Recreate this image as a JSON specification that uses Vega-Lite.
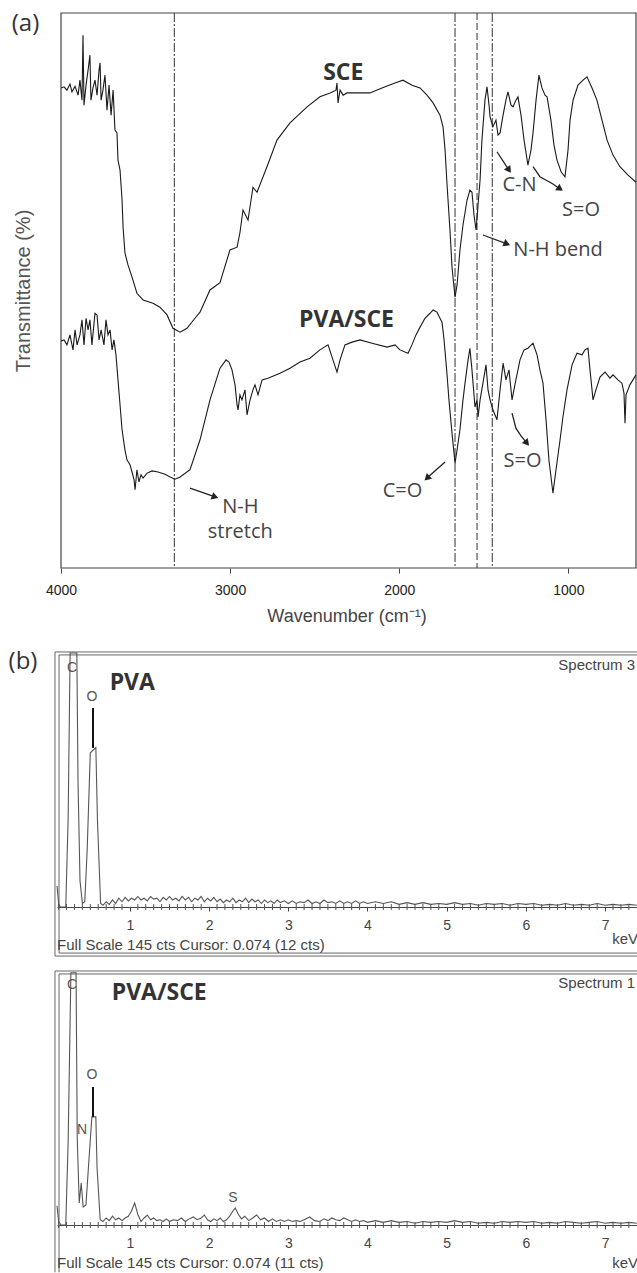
{
  "$schema": "https://vega.github.io/schema/vega-lite/v6.json",
  "background": "white",
  "padding": {"left": 8, "top": 11, "right": 0, "bottom": 0},
  "bounds": "flush",
  "spacing": 65,
  "config": {"view": {"stroke": null}, "axis": {"grid": false}, "font": "Liberation Sans"},
  "datasets": {
    "frameA": [{"x1": 4000, "x2": 600, "y1": 0, "y2": 100}],
    "vlinesA": [{"wn": 3330, "k": "dd"}, {"wn": 1670, "k": "dd"}, {"wn": 1540, "k": "d"}, {"wn": 1450, "k": "dd"}],
    "ftir": [
      {"s":"SCE","wn":4000,"t":86.5},{"s":"SCE","wn":3982,"t":86.7},{"s":"SCE","wn":3965,"t":86.1},{"s":"SCE","wn":3947,"t":87.2},{"s":"SCE","wn":3935,"t":85.8},{"s":"SCE","wn":3917,"t":86.8},{"s":"SCE","wn":3899,"t":85.2},{"s":"SCE","wn":3888,"t":87.9},{"s":"SCE","wn":3876,"t":84.3},{"s":"SCE","wn":3870,"t":96.0},{"s":"SCE","wn":3864,"t":83.4},{"s":"SCE","wn":3852,"t":87.0},{"s":"SCE","wn":3840,"t":89.7},{"s":"SCE","wn":3829,"t":92.4},{"s":"SCE","wn":3823,"t":84.3},{"s":"SCE","wn":3811,"t":86.5},{"s":"SCE","wn":3799,"t":87.9},{"s":"SCE","wn":3787,"t":85.2},{"s":"SCE","wn":3775,"t":89.7},{"s":"SCE","wn":3769,"t":91.0},{"s":"SCE","wn":3763,"t":84.3},{"s":"SCE","wn":3752,"t":86.1},{"s":"SCE","wn":3740,"t":88.8},{"s":"SCE","wn":3728,"t":82.5},{"s":"SCE","wn":3716,"t":87.0},{"s":"SCE","wn":3704,"t":81.6},{"s":"SCE","wn":3692,"t":86.1},{"s":"SCE","wn":3681,"t":78.9},{"s":"SCE","wn":3669,"t":78.4},{"s":"SCE","wn":3663,"t":73.5},{"s":"SCE","wn":3651,"t":71.7},{"s":"SCE","wn":3639,"t":66.3},{"s":"SCE","wn":3633,"t":61.4},{"s":"SCE","wn":3622,"t":56.8},{"s":"SCE","wn":3604,"t":54.6},{"s":"SCE","wn":3580,"t":52.4},{"s":"SCE","wn":3551,"t":49.5},{"s":"SCE","wn":3515,"t":48.3},{"s":"SCE","wn":3456,"t":47.7},{"s":"SCE","wn":3415,"t":47.0},{"s":"SCE","wn":3373,"t":45.6},{"s":"SCE","wn":3338,"t":43.2},{"s":"SCE","wn":3296,"t":42.5},{"s":"SCE","wn":3255,"t":43.2},{"s":"SCE","wn":3208,"t":45.0},{"s":"SCE","wn":3178,"t":46.1},{"s":"SCE","wn":3119,"t":50.1},{"s":"SCE","wn":3060,"t":51.4},{"s":"SCE","wn":3001,"t":57.3},{"s":"SCE","wn":2959,"t":57.8},{"s":"SCE","wn":2942,"t":60.4},{"s":"SCE","wn":2924,"t":64.5},{"s":"SCE","wn":2894,"t":62.7},{"s":"SCE","wn":2865,"t":68.6},{"s":"SCE","wn":2841,"t":67.7},{"s":"SCE","wn":2782,"t":72.3},{"s":"SCE","wn":2723,"t":77.1},{"s":"SCE","wn":2646,"t":80.2},{"s":"SCE","wn":2545,"t":83.1},{"s":"SCE","wn":2469,"t":84.9},{"s":"SCE","wn":2409,"t":85.6},{"s":"SCE","wn":2374,"t":86.1},{"s":"SCE","wn":2368,"t":87.4},{"s":"SCE","wn":2362,"t":83.8},{"s":"SCE","wn":2350,"t":86.1},{"s":"SCE","wn":2332,"t":85.2},{"s":"SCE","wn":2309,"t":85.6},{"s":"SCE","wn":2232,"t":85.6},{"s":"SCE","wn":2173,"t":85.6},{"s":"SCE","wn":2084,"t":86.7},{"s":"SCE","wn":2025,"t":87.4},{"s":"SCE","wn":1978,"t":87.9},{"s":"SCE","wn":1924,"t":87.0},{"s":"SCE","wn":1877,"t":86.5},{"s":"SCE","wn":1836,"t":85.2},{"s":"SCE","wn":1800,"t":83.8},{"s":"SCE","wn":1759,"t":81.6},{"s":"SCE","wn":1741,"t":79.5},{"s":"SCE","wn":1729,"t":75.3},{"s":"SCE","wn":1718,"t":69.4},{"s":"SCE","wn":1700,"t":60.9},{"s":"SCE","wn":1688,"t":54.2},{"s":"SCE","wn":1670,"t":48.8},{"s":"SCE","wn":1658,"t":51.0},{"s":"SCE","wn":1641,"t":57.3},{"s":"SCE","wn":1623,"t":61.8},{"s":"SCE","wn":1599,"t":66.3},{"s":"SCE","wn":1582,"t":68.1},{"s":"SCE","wn":1570,"t":67.7},{"s":"SCE","wn":1558,"t":63.6},{"s":"SCE","wn":1546,"t":60.9},{"s":"SCE","wn":1534,"t":65.4},{"s":"SCE","wn":1522,"t":69.9},{"s":"SCE","wn":1511,"t":77.1},{"s":"SCE","wn":1493,"t":84.3},{"s":"SCE","wn":1481,"t":86.7},{"s":"SCE","wn":1469,"t":83.4},{"s":"SCE","wn":1463,"t":81.3},{"s":"SCE","wn":1446,"t":79.5},{"s":"SCE","wn":1428,"t":80.7},{"s":"SCE","wn":1416,"t":78.0},{"s":"SCE","wn":1404,"t":78.4},{"s":"SCE","wn":1386,"t":81.6},{"s":"SCE","wn":1369,"t":84.3},{"s":"SCE","wn":1357,"t":85.8},{"s":"SCE","wn":1339,"t":83.4},{"s":"SCE","wn":1327,"t":83.1},{"s":"SCE","wn":1310,"t":84.3},{"s":"SCE","wn":1298,"t":84.9},{"s":"SCE","wn":1280,"t":81.6},{"s":"SCE","wn":1262,"t":77.1},{"s":"SCE","wn":1239,"t":72.6},{"s":"SCE","wn":1221,"t":75.3},{"s":"SCE","wn":1209,"t":78.4},{"s":"SCE","wn":1191,"t":84.3},{"s":"SCE","wn":1174,"t":88.8},{"s":"SCE","wn":1156,"t":86.5},{"s":"SCE","wn":1138,"t":85.2},{"s":"SCE","wn":1126,"t":84.9},{"s":"SCE","wn":1103,"t":80.7},{"s":"SCE","wn":1085,"t":76.2},{"s":"SCE","wn":1067,"t":73.5},{"s":"SCE","wn":1043,"t":71.4},{"s":"SCE","wn":1020,"t":70.5},{"s":"SCE","wn":1002,"t":75.3},{"s":"SCE","wn":990,"t":80.7},{"s":"SCE","wn":972,"t":84.3},{"s":"SCE","wn":943,"t":87.0},{"s":"SCE","wn":913,"t":87.9},{"s":"SCE","wn":890,"t":88.5},{"s":"SCE","wn":860,"t":86.5},{"s":"SCE","wn":831,"t":84.3},{"s":"SCE","wn":801,"t":80.7},{"s":"SCE","wn":771,"t":77.1},{"s":"SCE","wn":736,"t":74.4},{"s":"SCE","wn":695,"t":72.3},{"s":"SCE","wn":647,"t":70.8},{"s":"SCE","wn":600,"t":69.5},
      {"s":"PVA/SCE","wn":4000,"t":40.9},{"s":"PVA/SCE","wn":3982,"t":41.1},{"s":"PVA/SCE","wn":3965,"t":40.2},{"s":"PVA/SCE","wn":3947,"t":42.0},{"s":"PVA/SCE","wn":3929,"t":39.3},{"s":"PVA/SCE","wn":3917,"t":42.9},{"s":"PVA/SCE","wn":3905,"t":40.2},{"s":"PVA/SCE","wn":3888,"t":42.0},{"s":"PVA/SCE","wn":3876,"t":44.7},{"s":"PVA/SCE","wn":3864,"t":40.2},{"s":"PVA/SCE","wn":3852,"t":45.0},{"s":"PVA/SCE","wn":3840,"t":42.9},{"s":"PVA/SCE","wn":3829,"t":44.7},{"s":"PVA/SCE","wn":3817,"t":40.2},{"s":"PVA/SCE","wn":3799,"t":45.9},{"s":"PVA/SCE","wn":3787,"t":45.6},{"s":"PVA/SCE","wn":3775,"t":41.1},{"s":"PVA/SCE","wn":3763,"t":42.9},{"s":"PVA/SCE","wn":3746,"t":40.2},{"s":"PVA/SCE","wn":3734,"t":44.7},{"s":"PVA/SCE","wn":3722,"t":42.0},{"s":"PVA/SCE","wn":3710,"t":42.9},{"s":"PVA/SCE","wn":3698,"t":39.3},{"s":"PVA/SCE","wn":3687,"t":41.1},{"s":"PVA/SCE","wn":3675,"t":38.4},{"s":"PVA/SCE","wn":3663,"t":33.9},{"s":"PVA/SCE","wn":3651,"t":29.4},{"s":"PVA/SCE","wn":3639,"t":24.9},{"s":"PVA/SCE","wn":3622,"t":21.3},{"s":"PVA/SCE","wn":3610,"t":19.5},{"s":"PVA/SCE","wn":3592,"t":18.6},{"s":"PVA/SCE","wn":3580,"t":17.3},{"s":"PVA/SCE","wn":3568,"t":15.9},{"s":"PVA/SCE","wn":3562,"t":14.1},{"s":"PVA/SCE","wn":3551,"t":17.7},{"s":"PVA/SCE","wn":3539,"t":15.5},{"s":"PVA/SCE","wn":3527,"t":16.8},{"s":"PVA/SCE","wn":3515,"t":16.2},{"s":"PVA/SCE","wn":3491,"t":17.1},{"s":"PVA/SCE","wn":3462,"t":17.5},{"s":"PVA/SCE","wn":3426,"t":17.3},{"s":"PVA/SCE","wn":3385,"t":16.9},{"s":"PVA/SCE","wn":3355,"t":16.4},{"s":"PVA/SCE","wn":3326,"t":16.0},{"s":"PVA/SCE","wn":3296,"t":16.4},{"s":"PVA/SCE","wn":3237,"t":17.7},{"s":"PVA/SCE","wn":3178,"t":23.1},{"s":"PVA/SCE","wn":3119,"t":30.3},{"s":"PVA/SCE","wn":3060,"t":36.0},{"s":"PVA/SCE","wn":3024,"t":37.5},{"s":"PVA/SCE","wn":3007,"t":37.1},{"s":"PVA/SCE","wn":2989,"t":35.7},{"s":"PVA/SCE","wn":2971,"t":33.0},{"s":"PVA/SCE","wn":2959,"t":29.4},{"s":"PVA/SCE","wn":2953,"t":28.5},{"s":"PVA/SCE","wn":2942,"t":31.2},{"s":"PVA/SCE","wn":2930,"t":30.3},{"s":"PVA/SCE","wn":2912,"t":32.1},{"s":"PVA/SCE","wn":2900,"t":27.6},{"s":"PVA/SCE","wn":2882,"t":30.3},{"s":"PVA/SCE","wn":2865,"t":32.1},{"s":"PVA/SCE","wn":2853,"t":33.0},{"s":"PVA/SCE","wn":2835,"t":31.2},{"s":"PVA/SCE","wn":2811,"t":33.9},{"s":"PVA/SCE","wn":2776,"t":34.2},{"s":"PVA/SCE","wn":2705,"t":35.1},{"s":"PVA/SCE","wn":2646,"t":36.0},{"s":"PVA/SCE","wn":2587,"t":37.1},{"s":"PVA/SCE","wn":2528,"t":37.8},{"s":"PVA/SCE","wn":2469,"t":39.3},{"s":"PVA/SCE","wn":2421,"t":40.2},{"s":"PVA/SCE","wn":2392,"t":37.5},{"s":"PVA/SCE","wn":2368,"t":35.3},{"s":"PVA/SCE","wn":2350,"t":37.5},{"s":"PVA/SCE","wn":2321,"t":40.2},{"s":"PVA/SCE","wn":2279,"t":40.7},{"s":"PVA/SCE","wn":2232,"t":41.1},{"s":"PVA/SCE","wn":2161,"t":40.5},{"s":"PVA/SCE","wn":2072,"t":39.8},{"s":"PVA/SCE","wn":2025,"t":40.2},{"s":"PVA/SCE","wn":1996,"t":39.3},{"s":"PVA/SCE","wn":1966,"t":38.9},{"s":"PVA/SCE","wn":1948,"t":38.7},{"s":"PVA/SCE","wn":1925,"t":40.2},{"s":"PVA/SCE","wn":1901,"t":42.0},{"s":"PVA/SCE","wn":1877,"t":43.4},{"s":"PVA/SCE","wn":1848,"t":45.0},{"s":"PVA/SCE","wn":1818,"t":45.9},{"s":"PVA/SCE","wn":1800,"t":46.5},{"s":"PVA/SCE","wn":1777,"t":46.1},{"s":"PVA/SCE","wn":1759,"t":45.0},{"s":"PVA/SCE","wn":1747,"t":44.3},{"s":"PVA/SCE","wn":1735,"t":41.1},{"s":"PVA/SCE","wn":1718,"t":35.1},{"s":"PVA/SCE","wn":1706,"t":30.3},{"s":"PVA/SCE","wn":1688,"t":24.3},{"s":"PVA/SCE","wn":1670,"t":18.9},{"s":"PVA/SCE","wn":1658,"t":21.3},{"s":"PVA/SCE","wn":1641,"t":24.9},{"s":"PVA/SCE","wn":1623,"t":30.3},{"s":"PVA/SCE","wn":1611,"t":33.3},{"s":"PVA/SCE","wn":1593,"t":37.5},{"s":"PVA/SCE","wn":1582,"t":39.6},{"s":"PVA/SCE","wn":1570,"t":35.7},{"s":"PVA/SCE","wn":1552,"t":29.0},{"s":"PVA/SCE","wn":1540,"t":30.3},{"s":"PVA/SCE","wn":1534,"t":27.2},{"s":"PVA/SCE","wn":1522,"t":30.3},{"s":"PVA/SCE","wn":1505,"t":33.3},{"s":"PVA/SCE","wn":1487,"t":36.6},{"s":"PVA/SCE","wn":1475,"t":32.1},{"s":"PVA/SCE","wn":1463,"t":30.3},{"s":"PVA/SCE","wn":1446,"t":28.5},{"s":"PVA/SCE","wn":1422,"t":26.7},{"s":"PVA/SCE","wn":1404,"t":32.1},{"s":"PVA/SCE","wn":1386,"t":36.9},{"s":"PVA/SCE","wn":1369,"t":33.9},{"s":"PVA/SCE","wn":1351,"t":35.7},{"s":"PVA/SCE","wn":1333,"t":30.3},{"s":"PVA/SCE","wn":1316,"t":33.0},{"s":"PVA/SCE","wn":1286,"t":37.5},{"s":"PVA/SCE","wn":1262,"t":39.3},{"s":"PVA/SCE","wn":1239,"t":39.6},{"s":"PVA/SCE","wn":1209,"t":40.5},{"s":"PVA/SCE","wn":1185,"t":38.4},{"s":"PVA/SCE","wn":1168,"t":35.7},{"s":"PVA/SCE","wn":1150,"t":33.3},{"s":"PVA/SCE","wn":1132,"t":26.7},{"s":"PVA/SCE","wn":1115,"t":19.5},{"s":"PVA/SCE","wn":1091,"t":13.5},{"s":"PVA/SCE","wn":1073,"t":17.7},{"s":"PVA/SCE","wn":1049,"t":23.1},{"s":"PVA/SCE","wn":1032,"t":27.2},{"s":"PVA/SCE","wn":1008,"t":32.1},{"s":"PVA/SCE","wn":978,"t":36.6},{"s":"PVA/SCE","wn":949,"t":38.7},{"s":"PVA/SCE","wn":919,"t":38.4},{"s":"PVA/SCE","wn":902,"t":39.3},{"s":"PVA/SCE","wn":884,"t":39.6},{"s":"PVA/SCE","wn":872,"t":35.7},{"s":"PVA/SCE","wn":854,"t":30.3},{"s":"PVA/SCE","wn":837,"t":32.1},{"s":"PVA/SCE","wn":813,"t":34.4},{"s":"PVA/SCE","wn":783,"t":35.3},{"s":"PVA/SCE","wn":754,"t":34.2},{"s":"PVA/SCE","wn":736,"t":34.8},{"s":"PVA/SCE","wn":707,"t":33.9},{"s":"PVA/SCE","wn":683,"t":33.3},{"s":"PVA/SCE","wn":671,"t":31.5},{"s":"PVA/SCE","wn":665,"t":26.1},{"s":"PVA/SCE","wn":659,"t":31.2},{"s":"PVA/SCE","wn":636,"t":33.0},{"s":"PVA/SCE","wn":600,"t":34.8}
    ],
    "arrowsA": [
      {"id":"nhs","k":0,"wn":3237,"t":14.4},{"id":"nhs","k":1,"wn":3089,"t":12.8},
      {"id":"nhb","k":0,"wn":1505,"t":60.0},{"id":"nhb","k":1,"wn":1363,"t":58.4},
      {"id":"cn","k":0,"wn":1422,"t":75.0},{"id":"cn","k":1,"wn":1351,"t":71.7},
      {"id":"so1","k":0,"wn":1209,"t":72.3},{"id":"so1","k":1,"wn":1168,"t":70.5},{"id":"so1","k":2,"wn":1091,"t":69.2},{"id":"so1","k":3,"wn":1049,"t":68.3},
      {"id":"co","k":0,"wn":1729,"t":19.1},{"id":"co","k":1,"wn":1836,"t":16.2},
      {"id":"so2","k":0,"wn":1333,"t":27.9},{"id":"so2","k":1,"wn":1310,"t":25.2},{"id":"so2","k":2,"wn":1280,"t":23.8},{"id":"so2","k":3,"wn":1245,"t":22.5}
    ],
    "headsA": [
      {"id":"nhs","wn":3089,"t":12.8},{"id":"nhb","wn":1363,"t":58.4},{"id":"cn","wn":1351,"t":71.7},
      {"id":"so1","wn":1049,"t":68.3},{"id":"co","wn":1836,"t":16.2},{"id":"so2","wn":1245,"t":22.5}
    ],
    "textA": [
      {"kind":"series","txt":"SCE","wn":2331,"t":89.1},
      {"kind":"series","txt":"PVA/SCE","wn":2312,"t":44.7},
      {"kind":"note","txt":"N-H bend","wn":1061,"t":57.3},
      {"kind":"note","txt":"C-N","wn":1289,"t":69.0},
      {"kind":"note","txt":"S=O","wn":925,"t":64.5},
      {"kind":"note","txt":"C=O","wn":1981,"t":13.8},
      {"kind":"note","txt":"S=O","wn":1271,"t":19.2},
      {"kind":"stack","txt":"N-H\nstretch","wn":2940,"t":11.0},
      {"kind":"panel","txt":"(a)","wn":4210,"t":98.1}
    ],
    "frameB": [
      {"p":"PVA","e":0.054,"e2":0.054,"c":-28.0,"c2":145.6},
      {"p":"PVA","e":0.054,"e2":7.45,"c":145.6,"c2":145.6},
      {"p":"PVA","e":0.054,"e2":7.45,"c":-28.0,"c2":-28.0},
      {"p":"PVA","e":0.105,"e2":0.105,"c":-26.3,"c2":143.9},
      {"p":"PVA","e":0.105,"e2":7.45,"c":143.9,"c2":143.9},
      {"p":"PVA","e":0.105,"e2":7.45,"c":-26.3,"c2":-26.3},
      {"p":"PVA/SCE","e":0.054,"e2":0.054,"c":-27.0,"c2":145.0},
      {"p":"PVA/SCE","e":0.054,"e2":7.45,"c":145.0,"c2":145.0},
      {"p":"PVA/SCE","e":0.105,"e2":0.105,"c":-27.0,"c2":143.3},
      {"p":"PVA/SCE","e":0.105,"e2":7.45,"c":143.3,"c2":143.3}
    ],
    "minorB": [
      {"e":0.1,"c":0},{"e":0.2,"c":0},{"e":0.3,"c":0},{"e":0.4,"c":0},{"e":0.5,"c":0},{"e":0.6,"c":0},{"e":0.7,"c":0},{"e":0.8,"c":0},{"e":0.9,"c":0},
      {"e":1.1,"c":0},{"e":1.2,"c":0},{"e":1.3,"c":0},{"e":1.4,"c":0},{"e":1.5,"c":0},{"e":1.6,"c":0},{"e":1.7,"c":0},{"e":1.8,"c":0},{"e":1.9,"c":0},
      {"e":2.1,"c":0},{"e":2.2,"c":0},{"e":2.3,"c":0},{"e":2.4,"c":0},{"e":2.5,"c":0},{"e":2.6,"c":0},{"e":2.7,"c":0},{"e":2.8,"c":0},{"e":2.9,"c":0},
      {"e":3.1,"c":0},{"e":3.2,"c":0},{"e":3.3,"c":0},{"e":3.4,"c":0},{"e":3.5,"c":0},{"e":3.6,"c":0},{"e":3.7,"c":0},{"e":3.8,"c":0},{"e":3.9,"c":0},
      {"e":4.1,"c":0},{"e":4.2,"c":0},{"e":4.3,"c":0},{"e":4.4,"c":0},{"e":4.5,"c":0},{"e":4.6,"c":0},{"e":4.7,"c":0},{"e":4.8,"c":0},{"e":4.9,"c":0},
      {"e":5.1,"c":0},{"e":5.2,"c":0},{"e":5.3,"c":0},{"e":5.4,"c":0},{"e":5.5,"c":0},{"e":5.6,"c":0},{"e":5.7,"c":0},{"e":5.8,"c":0},{"e":5.9,"c":0},
      {"e":6.1,"c":0},{"e":6.2,"c":0},{"e":6.3,"c":0},{"e":6.4,"c":0},{"e":6.5,"c":0},{"e":6.6,"c":0},{"e":6.7,"c":0},{"e":6.8,"c":0},{"e":6.9,"c":0},
      {"e":7.1,"c":0},{"e":7.2,"c":0},{"e":7.3,"c":0}
    ],
    "eds": [
      {"p":"PVA","e":0.08,"c":12},{"p":"PVA","e":0.10,"c":2},{"p":"PVA","e":0.12,"c":0},{"p":"PVA","e":0.16,"c":0},{"p":"PVA","e":0.19,"c":0},{"p":"PVA","e":0.22,"c":50},{"p":"PVA","e":0.245,"c":145},{"p":"PVA","e":0.33,"c":145},{"p":"PVA","e":0.345,"c":71},{"p":"PVA","e":0.37,"c":15},{"p":"PVA","e":0.40,"c":2},{"p":"PVA","e":0.43,"c":3},{"p":"PVA","e":0.46,"c":32},{"p":"PVA","e":0.50,"c":88},{"p":"PVA","e":0.57,"c":91},{"p":"PVA","e":0.59,"c":50},{"p":"PVA","e":0.63,"c":2},
      {"p":"PVA","e":0.66,"c":1},{"p":"PVA","e":0.70,"c":3},{"p":"PVA","e":0.74,"c":1.5},{"p":"PVA","e":0.78,"c":4},{"p":"PVA","e":0.82,"c":2},{"p":"PVA","e":0.86,"c":5},{"p":"PVA","e":0.90,"c":3},{"p":"PVA","e":0.94,"c":5.5},{"p":"PVA","e":0.98,"c":3.5},{"p":"PVA","e":1.02,"c":5},{"p":"PVA","e":1.06,"c":4},{"p":"PVA","e":1.10,"c":6},{"p":"PVA","e":1.14,"c":4},{"p":"PVA","e":1.18,"c":5},{"p":"PVA","e":1.22,"c":3.5},{"p":"PVA","e":1.26,"c":6},{"p":"PVA","e":1.30,"c":4.5},{"p":"PVA","e":1.34,"c":5},{"p":"PVA","e":1.38,"c":3},{"p":"PVA","e":1.42,"c":5.5},{"p":"PVA","e":1.46,"c":4},{"p":"PVA","e":1.50,"c":6},{"p":"PVA","e":1.54,"c":4},{"p":"PVA","e":1.58,"c":5},{"p":"PVA","e":1.62,"c":3.5},{"p":"PVA","e":1.66,"c":6},{"p":"PVA","e":1.70,"c":4},{"p":"PVA","e":1.74,"c":5.5},{"p":"PVA","e":1.78,"c":3},{"p":"PVA","e":1.82,"c":5},{"p":"PVA","e":1.86,"c":4},{"p":"PVA","e":1.90,"c":6},{"p":"PVA","e":1.94,"c":3},{"p":"PVA","e":1.98,"c":5},{"p":"PVA","e":2.02,"c":3.5},{"p":"PVA","e":2.06,"c":5.5},{"p":"PVA","e":2.10,"c":3},{"p":"PVA","e":2.14,"c":4.5},{"p":"PVA","e":2.18,"c":2.5},{"p":"PVA","e":2.22,"c":4},{"p":"PVA","e":2.26,"c":3},{"p":"PVA","e":2.30,"c":5},{"p":"PVA","e":2.34,"c":2.5},{"p":"PVA","e":2.38,"c":4},{"p":"PVA","e":2.42,"c":3},{"p":"PVA","e":2.46,"c":5},{"p":"PVA","e":2.50,"c":2.5},{"p":"PVA","e":2.54,"c":4.5},{"p":"PVA","e":2.58,"c":3},{"p":"PVA","e":2.62,"c":4},{"p":"PVA","e":2.66,"c":2},{"p":"PVA","e":2.70,"c":4},{"p":"PVA","e":2.74,"c":2.5},{"p":"PVA","e":2.78,"c":3.5},{"p":"PVA","e":2.82,"c":2},{"p":"PVA","e":2.86,"c":4},{"p":"PVA","e":2.90,"c":2.5},{"p":"PVA","e":2.95,"c":3.5},{"p":"PVA","e":3.00,"c":2},{"p":"PVA","e":3.05,"c":3.5},{"p":"PVA","e":3.10,"c":2},{"p":"PVA","e":3.15,"c":3},{"p":"PVA","e":3.20,"c":2.5},{"p":"PVA","e":3.25,"c":4},{"p":"PVA","e":3.30,"c":2},{"p":"PVA","e":3.35,"c":3},{"p":"PVA","e":3.40,"c":2},{"p":"PVA","e":3.45,"c":4},{"p":"PVA","e":3.50,"c":2.5},{"p":"PVA","e":3.55,"c":3},{"p":"PVA","e":3.60,"c":2},{"p":"PVA","e":3.65,"c":3.5},{"p":"PVA","e":3.70,"c":2},{"p":"PVA","e":3.75,"c":3},{"p":"PVA","e":3.80,"c":2},{"p":"PVA","e":3.85,"c":3.5},{"p":"PVA","e":3.90,"c":2},{"p":"PVA","e":3.95,"c":3},{"p":"PVA","e":4.0,"c":2},{"p":"PVA","e":4.1,"c":3},{"p":"PVA","e":4.2,"c":2},{"p":"PVA","e":4.3,"c":3},{"p":"PVA","e":4.4,"c":1.5},{"p":"PVA","e":4.5,"c":2.5},{"p":"PVA","e":4.6,"c":1.5},{"p":"PVA","e":4.7,"c":2.5},{"p":"PVA","e":4.8,"c":1.5},{"p":"PVA","e":4.9,"c":2},{"p":"PVA","e":5.0,"c":1.5},{"p":"PVA","e":5.1,"c":2.5},{"p":"PVA","e":5.2,"c":1.5},{"p":"PVA","e":5.3,"c":2},{"p":"PVA","e":5.4,"c":1},{"p":"PVA","e":5.5,"c":2},{"p":"PVA","e":5.6,"c":1.5},{"p":"PVA","e":5.7,"c":2},{"p":"PVA","e":5.8,"c":1},{"p":"PVA","e":5.9,"c":2},{"p":"PVA","e":6.0,"c":1.5},{"p":"PVA","e":6.1,"c":2},{"p":"PVA","e":6.2,"c":1},{"p":"PVA","e":6.3,"c":1.5},{"p":"PVA","e":6.4,"c":1},{"p":"PVA","e":6.5,"c":2},{"p":"PVA","e":6.6,"c":1},{"p":"PVA","e":6.7,"c":1.5},{"p":"PVA","e":6.8,"c":1},{"p":"PVA","e":6.9,"c":2},{"p":"PVA","e":7.0,"c":1},{"p":"PVA","e":7.1,"c":1.5},{"p":"PVA","e":7.2,"c":1},{"p":"PVA","e":7.3,"c":1.5},{"p":"PVA","e":7.4,"c":1},
      {"p":"PVA/SCE","e":0.08,"c":11},{"p":"PVA/SCE","e":0.10,"c":2},{"p":"PVA/SCE","e":0.13,"c":0},{"p":"PVA/SCE","e":0.19,"c":0},{"p":"PVA/SCE","e":0.22,"c":47},{"p":"PVA/SCE","e":0.255,"c":144},{"p":"PVA/SCE","e":0.32,"c":144},{"p":"PVA/SCE","e":0.335,"c":50},{"p":"PVA/SCE","e":0.36,"c":12.6},{"p":"PVA/SCE","e":0.385,"c":24},{"p":"PVA/SCE","e":0.41,"c":10.3},{"p":"PVA/SCE","e":0.445,"c":11.4},{"p":"PVA/SCE","e":0.48,"c":35.4},{"p":"PVA/SCE","e":0.52,"c":61.7},{"p":"PVA/SCE","e":0.57,"c":61.7},{"p":"PVA/SCE","e":0.585,"c":33},{"p":"PVA/SCE","e":0.625,"c":3},
      {"p":"PVA/SCE","e":0.66,"c":2},{"p":"PVA/SCE","e":0.70,"c":4},{"p":"PVA/SCE","e":0.74,"c":2.5},{"p":"PVA/SCE","e":0.78,"c":5},{"p":"PVA/SCE","e":0.82,"c":3},{"p":"PVA/SCE","e":0.86,"c":4},{"p":"PVA/SCE","e":0.90,"c":2.5},{"p":"PVA/SCE","e":0.94,"c":4},{"p":"PVA/SCE","e":0.98,"c":5},{"p":"PVA/SCE","e":1.02,"c":8},{"p":"PVA/SCE","e":1.06,"c":12.6},{"p":"PVA/SCE","e":1.10,"c":6},{"p":"PVA/SCE","e":1.14,"c":2},{"p":"PVA/SCE","e":1.18,"c":4},{"p":"PVA/SCE","e":1.22,"c":5.7},{"p":"PVA/SCE","e":1.26,"c":3},{"p":"PVA/SCE","e":1.30,"c":4},{"p":"PVA/SCE","e":1.34,"c":2.5},{"p":"PVA/SCE","e":1.38,"c":3},{"p":"PVA/SCE","e":1.42,"c":2},{"p":"PVA/SCE","e":1.46,"c":3.5},{"p":"PVA/SCE","e":1.50,"c":2},{"p":"PVA/SCE","e":1.55,"c":3},{"p":"PVA/SCE","e":1.60,"c":2.5},{"p":"PVA/SCE","e":1.65,"c":4},{"p":"PVA/SCE","e":1.70,"c":2},{"p":"PVA/SCE","e":1.75,"c":3.5},{"p":"PVA/SCE","e":1.80,"c":4.6},{"p":"PVA/SCE","e":1.85,"c":3},{"p":"PVA/SCE","e":1.90,"c":4},{"p":"PVA/SCE","e":1.94,"c":5.7},{"p":"PVA/SCE","e":1.98,"c":3},{"p":"PVA/SCE","e":2.02,"c":2},{"p":"PVA/SCE","e":2.06,"c":3.5},{"p":"PVA/SCE","e":2.10,"c":2.5},{"p":"PVA/SCE","e":2.14,"c":4},{"p":"PVA/SCE","e":2.18,"c":2},{"p":"PVA/SCE","e":2.22,"c":3},{"p":"PVA/SCE","e":2.26,"c":5},{"p":"PVA/SCE","e":2.30,"c":8},{"p":"PVA/SCE","e":2.33,"c":9.7},{"p":"PVA/SCE","e":2.37,"c":6},{"p":"PVA/SCE","e":2.41,"c":3.5},{"p":"PVA/SCE","e":2.45,"c":5},{"p":"PVA/SCE","e":2.50,"c":2.5},{"p":"PVA/SCE","e":2.55,"c":4},{"p":"PVA/SCE","e":2.60,"c":5.7},{"p":"PVA/SCE","e":2.65,"c":3},{"p":"PVA/SCE","e":2.70,"c":4},{"p":"PVA/SCE","e":2.75,"c":2},{"p":"PVA/SCE","e":2.80,"c":3.5},{"p":"PVA/SCE","e":2.85,"c":2},{"p":"PVA/SCE","e":2.90,"c":3},{"p":"PVA/SCE","e":2.95,"c":2},{"p":"PVA/SCE","e":3.00,"c":3},{"p":"PVA/SCE","e":3.05,"c":2},{"p":"PVA/SCE","e":3.10,"c":2.5},{"p":"PVA/SCE","e":3.15,"c":2},{"p":"PVA/SCE","e":3.20,"c":3},{"p":"PVA/SCE","e":3.27,"c":4.6},{"p":"PVA/SCE","e":3.33,"c":2.5},{"p":"PVA/SCE","e":3.40,"c":2},{"p":"PVA/SCE","e":3.45,"c":3.5},{"p":"PVA/SCE","e":3.50,"c":2.5},{"p":"PVA/SCE","e":3.55,"c":4},{"p":"PVA/SCE","e":3.60,"c":3},{"p":"PVA/SCE","e":3.65,"c":2.5},{"p":"PVA/SCE","e":3.70,"c":4},{"p":"PVA/SCE","e":3.75,"c":3},{"p":"PVA/SCE","e":3.80,"c":2},{"p":"PVA/SCE","e":3.85,"c":3},{"p":"PVA/SCE","e":3.90,"c":2},{"p":"PVA/SCE","e":3.95,"c":2.5},{"p":"PVA/SCE","e":4.0,"c":1.5},{"p":"PVA/SCE","e":4.1,"c":2.5},{"p":"PVA/SCE","e":4.2,"c":1.5},{"p":"PVA/SCE","e":4.3,"c":2.5},{"p":"PVA/SCE","e":4.4,"c":1.5},{"p":"PVA/SCE","e":4.5,"c":2},{"p":"PVA/SCE","e":4.6,"c":1},{"p":"PVA/SCE","e":4.7,"c":2},{"p":"PVA/SCE","e":4.8,"c":1.5},{"p":"PVA/SCE","e":4.9,"c":2},{"p":"PVA/SCE","e":5.0,"c":1.5},{"p":"PVA/SCE","e":5.1,"c":2.5},{"p":"PVA/SCE","e":5.2,"c":1.5},{"p":"PVA/SCE","e":5.3,"c":2},{"p":"PVA/SCE","e":5.4,"c":1},{"p":"PVA/SCE","e":5.5,"c":1.5},{"p":"PVA/SCE","e":5.6,"c":1},{"p":"PVA/SCE","e":5.7,"c":2},{"p":"PVA/SCE","e":5.8,"c":1.5},{"p":"PVA/SCE","e":5.9,"c":2},{"p":"PVA/SCE","e":6.0,"c":1.5},{"p":"PVA/SCE","e":6.1,"c":2},{"p":"PVA/SCE","e":6.2,"c":1},{"p":"PVA/SCE","e":6.3,"c":1.5},{"p":"PVA/SCE","e":6.4,"c":1},{"p":"PVA/SCE","e":6.5,"c":2},{"p":"PVA/SCE","e":6.6,"c":1.5},{"p":"PVA/SCE","e":6.7,"c":1},{"p":"PVA/SCE","e":6.8,"c":1.5},{"p":"PVA/SCE","e":6.9,"c":2},{"p":"PVA/SCE","e":7.0,"c":1},{"p":"PVA/SCE","e":7.1,"c":1.5},{"p":"PVA/SCE","e":7.2,"c":1},{"p":"PVA/SCE","e":7.3,"c":1.5},{"p":"PVA/SCE","e":7.4,"c":1}
    ],
    "spikes": [
      {"p":"PVA","e":0.534,"c":90.8,"c2":113.6},
      {"p":"PVA/SCE","e":0.534,"c":61.7,"c2":78.8}
    ],
    "textB": [
      {"p":"PVA","kind":"el","txt":"C","e":0.27,"c":136.4},
      {"p":"PVA","kind":"el","txt":"O","e":0.52,"c":119.9},
      {"p":"PVA","kind":"name","txt":"PVA","e":1.03,"c":127.9},
      {"p":"PVA","kind":"spec","txt":"Spectrum 3","e":7.378,"c":138.2},
      {"p":"PVA","kind":"foot","txt":"Full Scale 145 cts Cursor: 0.074  (12 cts)","e":0.08,"c":-21.7},
      {"p":"PVA","kind":"unit","txt":"keV","e":7.09,"c":-18},
      {"p":"PVA","kind":"panel","txt":"(b)","e":-0.35,"c":139.9},
      {"p":"PVA/SCE","kind":"el","txt":"C","e":0.27,"c":137},
      {"p":"PVA/SCE","kind":"el","txt":"N","e":0.395,"c":54.2},
      {"p":"PVA/SCE","kind":"el","txt":"O","e":0.52,"c":85.7},
      {"p":"PVA/SCE","kind":"el","txt":"S","e":2.30,"c":15.4},
      {"p":"PVA/SCE","kind":"name","txt":"PVA/SCE","e":1.37,"c":132.5},
      {"p":"PVA/SCE","kind":"spec","txt":"Spectrum 1","e":7.378,"c":138.2},
      {"p":"PVA/SCE","kind":"foot","txt":"Full Scale 145 cts Cursor: 0.074  (11 cts)","e":0.08,"c":-21.7},
      {"p":"PVA/SCE","kind":"unit","txt":"keV","e":7.09,"c":-21.7}
    ]
  },
  "vconcat": [
    {
      "width": 579,
      "height": 555,
      "layer": [
        {
          "data": {"name": "frameA"},
          "mark": {"type": "rect", "filled": false, "stroke": "#444", "strokeWidth": 1.2},
          "encoding": {
            "x": {"field": "x1", "type": "quantitative",
                  "scale": {"domain": [600, 4023.7], "reverse": true, "nice": false, "zero": false},
                  "axis": {"title": "Wavenumber (cm⁻¹)", "values": [4000, 3000, 2000, 1000], "format": "d",
                           "domain": false, "ticks": true, "tickSize": 5, "tickColor": "#444",
                           "labelFont": "Liberation Sans", "labelFontSize": 14, "labelColor": "#222", "labelPadding": 10,
                           "titleFont": "Liberation Sans", "titleFontSize": 18, "titleFontWeight": "normal", "titleColor": "#444", "titlePadding": 10}},
            "x2": {"field": "x2"},
            "y": {"field": "y1", "type": "quantitative",
                  "scale": {"domain": [0, 100], "nice": false, "zero": false},
                  "axis": {"title": "Transmittance (%)", "labels": false, "ticks": false, "domain": false,
                           "titleFont": "Liberation Sans", "titleFontSize": 20, "titleFontWeight": "normal", "titleColor": "#555", "titlePadding": 24}},
            "y2": {"field": "y2"}
          }
        },
        {
          "data": {"name": "vlinesA"},
          "transform": [{"filter": "datum.k == 'dd'"}],
          "mark": {"type": "rule", "color": "#333", "strokeWidth": 1, "strokeDash": [9, 2, 2, 2]},
          "encoding": {"x": {"field": "wn", "type": "quantitative"}}
        },
        {
          "data": {"name": "vlinesA"},
          "transform": [{"filter": "datum.k == 'd'"}],
          "mark": {"type": "rule", "color": "#333", "strokeWidth": 1, "strokeDash": [7, 3]},
          "encoding": {"x": {"field": "wn", "type": "quantitative"}}
        },
        {
          "data": {"name": "ftir"},
          "mark": {"type": "line", "color": "#1a1a1a", "strokeWidth": 1.1},
          "encoding": {
            "x": {"field": "wn", "type": "quantitative"},
            "y": {"field": "t", "type": "quantitative"},
            "detail": {"field": "s"}
          }
        },
        {
          "data": {"name": "arrowsA"},
          "mark": {"type": "line", "color": "#222", "strokeWidth": 1.3},
          "encoding": {
            "x": {"field": "wn", "type": "quantitative"},
            "y": {"field": "t", "type": "quantitative"},
            "detail": {"field": "id"},
            "order": {"field": "k"}
          }
        },
        {"data": {"name": "headsA"}, "transform": [{"filter": "datum.id == 'nhs'"}],
         "mark": {"type": "point", "shape": "triangle-right", "filled": true, "color": "#222", "opacity": 1, "size": 60, "angle": 20},
         "encoding": {"x": {"field": "wn", "type": "quantitative"}, "y": {"field": "t", "type": "quantitative"}}},
        {"data": {"name": "headsA"}, "transform": [{"filter": "datum.id == 'nhb'"}],
         "mark": {"type": "point", "shape": "triangle-right", "filled": true, "color": "#222", "opacity": 1, "size": 60, "angle": 22},
         "encoding": {"x": {"field": "wn", "type": "quantitative"}, "y": {"field": "t", "type": "quantitative"}}},
        {"data": {"name": "headsA"}, "transform": [{"filter": "datum.id == 'cn'"}],
         "mark": {"type": "point", "shape": "triangle-right", "filled": true, "color": "#222", "opacity": 1, "size": 60, "angle": 56},
         "encoding": {"x": {"field": "wn", "type": "quantitative"}, "y": {"field": "t", "type": "quantitative"}}},
        {"data": {"name": "headsA"}, "transform": [{"filter": "datum.id == 'so1'"}],
         "mark": {"type": "point", "shape": "triangle-right", "filled": true, "color": "#222", "opacity": 1, "size": 60, "angle": 35},
         "encoding": {"x": {"field": "wn", "type": "quantitative"}, "y": {"field": "t", "type": "quantitative"}}},
        {"data": {"name": "headsA"}, "transform": [{"filter": "datum.id == 'co'"}],
         "mark": {"type": "point", "shape": "triangle-right", "filled": true, "color": "#222", "opacity": 1, "size": 60, "angle": 137},
         "encoding": {"x": {"field": "wn", "type": "quantitative"}, "y": {"field": "t", "type": "quantitative"}}},
        {"data": {"name": "headsA"}, "transform": [{"filter": "datum.id == 'so2'"}],
         "mark": {"type": "point", "shape": "triangle-right", "filled": true, "color": "#222", "opacity": 1, "size": 60, "angle": 50},
         "encoding": {"x": {"field": "wn", "type": "quantitative"}, "y": {"field": "t", "type": "quantitative"}}},
        {
          "data": {"name": "textA"},
          "transform": [{"filter": "datum.kind == 'series'"}],
          "mark": {"type": "text", "font": "Open Sans", "fontSize": 23, "fontWeight": "bold", "color": "#333", "align": "center", "baseline": "middle"},
          "encoding": {"x": {"field": "wn", "type": "quantitative"}, "y": {"field": "t", "type": "quantitative"}, "text": {"field": "txt"}}
        },
        {
          "data": {"name": "textA"},
          "transform": [{"filter": "datum.kind == 'note'"}],
          "mark": {"type": "text", "font": "Open Sans", "fontSize": 20, "color": "#444", "align": "center", "baseline": "middle"},
          "encoding": {"x": {"field": "wn", "type": "quantitative"}, "y": {"field": "t", "type": "quantitative"}, "text": {"field": "txt"}}
        },
        {
          "data": {"name": "textA"},
          "transform": [{"filter": "datum.kind == 'stack'"}],
          "mark": {"type": "text", "font": "Open Sans", "fontSize": 20, "color": "#444", "align": "center", "baseline": "middle", "lineBreak": "\n", "lineHeight": 25},
          "encoding": {"x": {"field": "wn", "type": "quantitative"}, "y": {"field": "t", "type": "quantitative"}, "text": {"field": "txt"}}
        },
        {
          "data": {"name": "textA"},
          "transform": [{"filter": "datum.kind == 'panel'"}],
          "mark": {"type": "text", "font": "Open Sans", "fontSize": 24, "color": "#333", "align": "center", "baseline": "middle"},
          "encoding": {"x": {"field": "wn", "type": "quantitative"}, "y": {"field": "t", "type": "quantitative"}, "text": {"field": "txt"}}
        }
      ]
    },
    {
      "width": 580,
      "height": 274,
      "layer": [
        {
          "data": {"name": "frameB"},
          "transform": [{"filter": "datum.p == 'PVA'"}],
          "mark": {"type": "rule", "color": "#666", "strokeWidth": 1},
          "encoding": {
            "x": {"field": "e", "type": "quantitative",
                  "scale": {"domain": [0.0795, 7.403], "nice": false, "zero": false},
                  "axis": {"title": null, "values": [1, 2, 3, 4, 5, 6, 7], "format": "d",
                           "domain": true, "domainColor": "#444", "tickColor": "#444", "tickSize": 4,
                           "labelFont": "Liberation Sans", "labelFontSize": 14, "labelColor": "#444", "labelPadding": 7}},
            "x2": {"field": "e2"},
            "y": {"field": "c", "type": "quantitative", "scale": {"domain": [0, 156.42], "nice": false, "zero": false}, "axis": null},
            "y2": {"field": "c2"}
          }
        },
        {
          "data": {"name": "minorB"},
          "mark": {"type": "tick", "orient": "vertical", "color": "#555", "thickness": 1, "size": 6, "opacity": 1},
          "encoding": {"x": {"field": "e", "type": "quantitative"}, "y": {"field": "c", "type": "quantitative", "axis": null}}
        },
        {
          "data": {"name": "eds"},
          "transform": [{"filter": "datum.p == 'PVA'"}],
          "mark": {"type": "line", "color": "#555", "strokeWidth": 1.1},
          "encoding": {"x": {"field": "e", "type": "quantitative"}, "y": {"field": "c", "type": "quantitative", "axis": null}}
        },
        {
          "data": {"name": "spikes"},
          "transform": [{"filter": "datum.p == 'PVA'"}],
          "mark": {"type": "rule", "color": "#111", "strokeWidth": 2},
          "encoding": {"x": {"field": "e", "type": "quantitative"}, "y": {"field": "c", "type": "quantitative", "axis": null}, "y2": {"field": "c2"}}
        },
        {
          "data": {"name": "textB"},
          "transform": [{"filter": "datum.p == 'PVA' && datum.kind == 'el'"}],
          "mark": {"type": "text", "font": "Liberation Sans", "fontSize": 14, "color": "#555", "align": "center", "baseline": "middle"},
          "encoding": {"x": {"field": "e", "type": "quantitative"}, "y": {"field": "c", "type": "quantitative", "axis": null}, "text": {"field": "txt"}}
        },
        {
          "data": {"name": "textB"},
          "transform": [{"filter": "datum.p == 'PVA' && datum.kind == 'name'"}],
          "mark": {"type": "text", "font": "Open Sans", "fontSize": 23, "fontWeight": "bold", "color": "#333", "align": "center", "baseline": "middle"},
          "encoding": {"x": {"field": "e", "type": "quantitative"}, "y": {"field": "c", "type": "quantitative", "axis": null}, "text": {"field": "txt"}}
        },
        {
          "data": {"name": "textB"},
          "transform": [{"filter": "datum.p == 'PVA' && datum.kind == 'spec'"}],
          "mark": {"type": "text", "font": "Liberation Sans", "fontSize": 15, "color": "#444", "align": "right", "baseline": "middle"},
          "encoding": {"x": {"field": "e", "type": "quantitative"}, "y": {"field": "c", "type": "quantitative", "axis": null}, "text": {"field": "txt"}}
        },
        {
          "data": {"name": "textB"},
          "transform": [{"filter": "datum.p == 'PVA' && (datum.kind == 'foot' || datum.kind == 'unit')"}],
          "mark": {"type": "text", "font": "Liberation Sans", "fontSize": 15, "color": "#444", "align": "left", "baseline": "middle"},
          "encoding": {"x": {"field": "e", "type": "quantitative"}, "y": {"field": "c", "type": "quantitative", "axis": null}, "text": {"field": "txt"}}
        },
        {
          "data": {"name": "textB"},
          "transform": [{"filter": "datum.p == 'PVA' && datum.kind == 'panel'"}],
          "mark": {"type": "text", "font": "Open Sans", "fontSize": 24, "color": "#333", "align": "center", "baseline": "middle"},
          "encoding": {"x": {"field": "e", "type": "quantitative"}, "y": {"field": "c", "type": "quantitative", "axis": null}, "text": {"field": "txt"}}
        }
      ]
    },
    {
      "width": 580,
      "height": 253,
      "layer": [
        {
          "data": {"name": "frameB"},
          "transform": [{"filter": "datum.p == 'PVA/SCE'"}],
          "mark": {"type": "rule", "color": "#666", "strokeWidth": 1},
          "encoding": {
            "x": {"field": "e", "type": "quantitative",
                  "scale": {"domain": [0.0795, 7.403], "nice": false, "zero": false},
                  "axis": {"title": null, "values": [1, 2, 3, 4, 5, 6, 7], "format": "d",
                           "domain": true, "domainColor": "#444", "tickColor": "#444", "tickSize": 4,
                           "labelFont": "Liberation Sans", "labelFontSize": 14, "labelColor": "#444", "labelPadding": 7}},
            "x2": {"field": "e2"},
            "y": {"field": "c", "type": "quantitative", "scale": {"domain": [0, 144.43], "nice": false, "zero": false}, "axis": null},
            "y2": {"field": "c2"}
          }
        },
        {
          "data": {"name": "minorB"},
          "mark": {"type": "tick", "orient": "vertical", "color": "#555", "thickness": 1, "size": 6, "opacity": 1},
          "encoding": {"x": {"field": "e", "type": "quantitative"}, "y": {"field": "c", "type": "quantitative", "axis": null}}
        },
        {
          "data": {"name": "eds"},
          "transform": [{"filter": "datum.p == 'PVA/SCE'"}],
          "mark": {"type": "line", "color": "#555", "strokeWidth": 1.1},
          "encoding": {"x": {"field": "e", "type": "quantitative"}, "y": {"field": "c", "type": "quantitative", "axis": null}}
        },
        {
          "data": {"name": "spikes"},
          "transform": [{"filter": "datum.p == 'PVA/SCE'"}],
          "mark": {"type": "rule", "color": "#111", "strokeWidth": 2},
          "encoding": {"x": {"field": "e", "type": "quantitative"}, "y": {"field": "c", "type": "quantitative", "axis": null}, "y2": {"field": "c2"}}
        },
        {
          "data": {"name": "textB"},
          "transform": [{"filter": "datum.p == 'PVA/SCE' && datum.kind == 'el'"}],
          "mark": {"type": "text", "font": "Liberation Sans", "fontSize": 14, "color": "#555", "align": "center", "baseline": "middle"},
          "encoding": {"x": {"field": "e", "type": "quantitative"}, "y": {"field": "c", "type": "quantitative", "axis": null}, "text": {"field": "txt"}}
        },
        {
          "data": {"name": "textB"},
          "transform": [{"filter": "datum.p == 'PVA/SCE' && datum.kind == 'name'"}],
          "mark": {"type": "text", "font": "Open Sans", "fontSize": 23, "fontWeight": "bold", "color": "#333", "align": "center", "baseline": "middle"},
          "encoding": {"x": {"field": "e", "type": "quantitative"}, "y": {"field": "c", "type": "quantitative", "axis": null}, "text": {"field": "txt"}}
        },
        {
          "data": {"name": "textB"},
          "transform": [{"filter": "datum.p == 'PVA/SCE' && datum.kind == 'spec'"}],
          "mark": {"type": "text", "font": "Liberation Sans", "fontSize": 15, "color": "#444", "align": "right", "baseline": "middle"},
          "encoding": {"x": {"field": "e", "type": "quantitative"}, "y": {"field": "c", "type": "quantitative", "axis": null}, "text": {"field": "txt"}}
        },
        {
          "data": {"name": "textB"},
          "transform": [{"filter": "datum.p == 'PVA/SCE' && (datum.kind == 'foot' || datum.kind == 'unit')"}],
          "mark": {"type": "text", "font": "Liberation Sans", "fontSize": 15, "color": "#444", "align": "left", "baseline": "middle"},
          "encoding": {"x": {"field": "e", "type": "quantitative"}, "y": {"field": "c", "type": "quantitative", "axis": null}, "text": {"field": "txt"}}
        }
      ]
    }
  ]
}
